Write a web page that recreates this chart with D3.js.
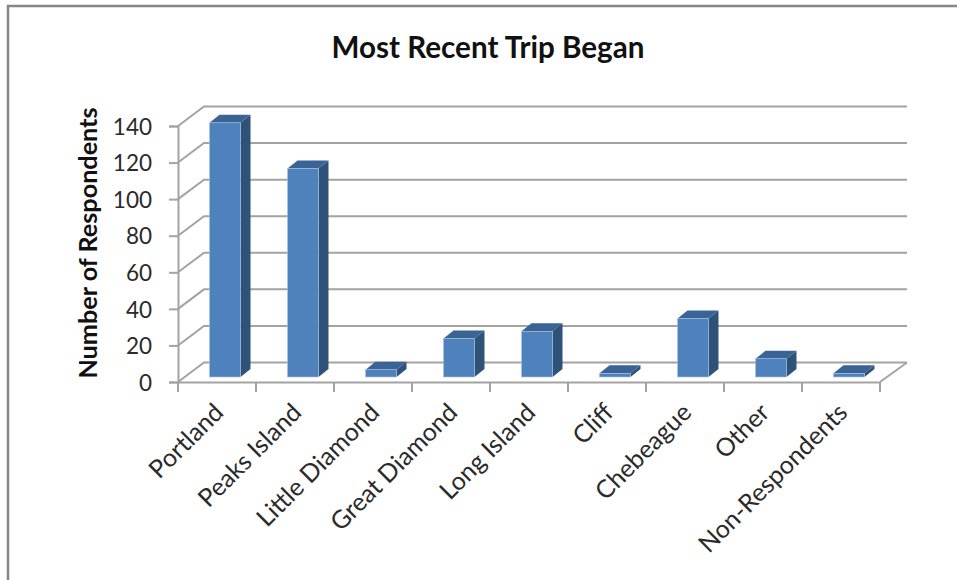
<!DOCTYPE html>
<html><head><meta charset="utf-8">
<script src="https://cdn.jsdelivr.net/npm/d3@7"></script>
<style>html,body{margin:0;padding:0;background:#fff}svg{display:block}text{font-family:Lato,"Noto Sans",sans-serif}</style>
</head><body><svg id="c" width="957" height="580"></svg>
<script>
const categories = ["Portland","Peaks Island","Little Diamond","Great Diamond","Long Island","Cliff","Chebeague","Other","Non-Respondents"];
const respondents = [139,114,4,21,25,2,32,10,2];
const yTicks = [0,20,40,60,80,100,120,140];
const titleText = "Most Recent Trip Began";
const yTitle = "Number of Respondents";

const svg = d3.select("#c");
const gray = "#a3a3a3";
const wall = {dx:26, dy:-19.5};
const barOff = {dx:8, dy:-5};
const depth = {dx:10, dy:-8};
const xScale = d3.scaleBand().domain(categories).range([178,880]).paddingInner(0).paddingOuter(0);
const yScale = d3.scaleLinear().domain([0,140]).range([382,126]);
const bw = 31;

// chart frame
svg.append("path").attr("d","M8 580V6H957").attr("fill","none").attr("stroke","#868686").attr("stroke-width",2.5);

svg.append("text").attr("x",488).attr("y",58).attr("text-anchor","middle")
  .attr("font-size",29.6).attr("font-weight",700).attr("fill","#111").text(titleText);
svg.append("text").attr("transform","translate(97,243) rotate(-90)").attr("text-anchor","middle")
  .attr("font-size",25.2).attr("font-weight",700).attr("fill","#111").text(yTitle);

// back wall gridlines, side wall diagonals
const grid = svg.append("g").attr("fill","none").attr("stroke",gray).attr("stroke-width",2);
grid.selectAll(".g").data(yTicks).join("path")
  .attr("d",v=>{const p=yScale(v);return `M178 ${p}L${178+wall.dx} ${p+wall.dy}H${880+wall.dx+1}`;});
// floor right edge
grid.append("path").attr("d",`M880 ${yScale(0)}L${880+wall.dx+1} ${yScale(0)+wall.dy}`);

// axes
const axL = d3.axisLeft(yScale).tickValues(yTicks).tickSize(9).tickPadding(17);
const gL = svg.append("g").attr("transform","translate(178,1)").call(axL);
gL.selectAll("line").attr("transform","translate(0,-1)");
gL.select("path.domain").attr("transform","translate(0,-1)");
const axB = d3.axisBottom(xScale).tickSize(0).tickFormat("");
const gB = svg.append("g").attr("transform",`translate(0,${yScale(0)})`).call(axB);
[gL,gB].forEach(g=>{g.selectAll("path.domain").attr("stroke",gray).attr("stroke-width",2);g.selectAll("line").attr("stroke",gray).attr("stroke-width",2);});
gL.selectAll("text").attr("font-size",22.5).attr("fill","#2a2a2a").style("font-family","Lato,sans-serif");

// category ticks
const edges = categories.map(c=>xScale(c)).concat([xScale.range()[1]]);
svg.append("g").selectAll("line").data(edges).join("line")
  .attr("x1",d=>d).attr("x2",d=>d).attr("y1",yScale(0)).attr("y2",yScale(0)+10)
  .attr("stroke",gray).attr("stroke-width",2);

// category labels
svg.append("g").selectAll("text").data(categories).join("text")
  .attr("transform",c=>`translate(${xScale(c)+xScale.bandwidth()/2+8},${yScale(0)+32}) rotate(-45)`)
  .attr("text-anchor","end").attr("font-size",25).attr("fill","#2a2a2a").text(c=>c);

// 3-D bars
const bars = svg.append("g").selectAll("g").data(categories).join("g");
const bx = c=>xScale(c)+xScale.bandwidth()/2-bw/2+barOff.dx;
const by0 = yScale(0)+barOff.dy;
const barTop = (c,i)=>yScale(respondents[i])+barOff.dy;
bars.append("path").attr("fill","#2f5279").attr("d",(c,i)=>{const a=bx(c)+bw,t=barTop(c,i);
  return `M${a} ${by0}V${t}l${depth.dx} ${depth.dy}V${by0+depth.dy}Z`;});
bars.append("path").attr("fill","#3a6396").attr("d",(c,i)=>{const a=bx(c),t=barTop(c,i);
  return `M${a} ${t}l${depth.dx} ${depth.dy}h${bw}l${-depth.dx} ${-depth.dy}Z`;});
bars.append("rect").attr("x",c=>bx(c)).attr("y",(c,i)=>barTop(c,i)).attr("width",bw)
  .attr("height",(c,i)=>by0-barTop(c,i)).attr("fill","#4f81bd").attr("stroke","#a9c3e2").attr("stroke-width",.6);
</script></body></html>
